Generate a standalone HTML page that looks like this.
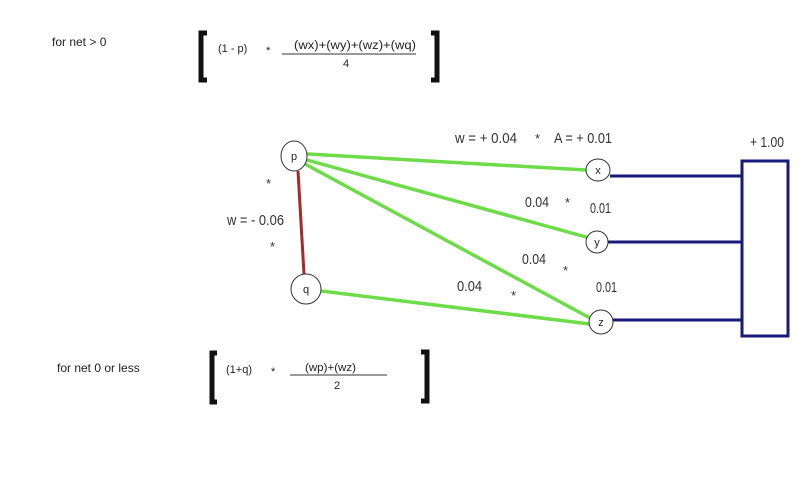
<!DOCTYPE html>
<html><head><meta charset="utf-8"><style>
html,body{margin:0;padding:0;background:#fff;width:800px;height:500px;overflow:hidden}
text{font-family:"Liberation Sans",sans-serif;fill:#222}
.n{fill:#333}
</style></head><body>
<svg width="800" height="500" viewBox="0 0 800 500" xmlns="http://www.w3.org/2000/svg">
<rect width="800" height="500" fill="#fff"/>
<!-- top formula -->
<text x="52" y="46" font-size="12">for net &gt; 0</text>
<path d="M207,33 H201 V80 H207" fill="none" stroke="#111" stroke-width="5"/>
<path d="M431,33 H437 V80 H431" fill="none" stroke="#111" stroke-width="5"/>
<text x="218" y="52" font-size="11">(1 - p)</text>
<text x="266" y="54" font-size="11">*</text>
<text x="294" y="49" font-size="11.5" textLength="122" lengthAdjust="spacingAndGlyphs">(wx)+(wy)+(wz)+(wq)</text>
<line x1="282" y1="54" x2="416" y2="54" stroke="#333" stroke-width="1"/>
<text x="343" y="67" font-size="11">4</text>
<!-- bottom formula -->
<text x="57" y="372" font-size="12">for net 0 or less</text>
<path d="M217,353 H212 V402 H217" fill="none" stroke="#111" stroke-width="5"/>
<path d="M421,352 H427 V401 H421" fill="none" stroke="#111" stroke-width="5"/>
<text x="226" y="373" font-size="11">(1+q)</text>
<text x="271" y="375" font-size="11">*</text>
<text x="305" y="371" font-size="11" textLength="51" lengthAdjust="spacingAndGlyphs">(wp)+(wz)</text>
<line x1="290" y1="375" x2="387" y2="375" stroke="#333" stroke-width="1"/>
<text x="334" y="389" font-size="11">2</text>
<!-- connectors -->
<g stroke="#6ddc48" stroke-width="3.5" fill="none" stroke-linecap="round">
<line x1="308" y1="154" x2="586" y2="170"/>
<line x1="307" y1="160" x2="586" y2="237"/>
<line x1="305" y1="164" x2="590" y2="318"/>
<line x1="321" y1="291" x2="590" y2="324"/>
</g>
<line x1="298" y1="171" x2="304" y2="274" stroke="#a52a2a" stroke-width="3"/>
<g stroke="#1a1a7a" stroke-width="3" fill="none">
<line x1="610" y1="176" x2="742" y2="176"/>
<line x1="608" y1="242" x2="742" y2="242"/>
<line x1="613" y1="320" x2="742" y2="320"/>
<rect x="742" y="161" width="46" height="175"/>
</g>
<!-- nodes -->
<g fill="#fff" stroke="#333" stroke-width="1">
<ellipse cx="294" cy="156" rx="13" ry="15"/>
<ellipse cx="306" cy="289" rx="15" ry="15"/>
<ellipse cx="598" cy="170" rx="12" ry="11"/>
<ellipse cx="597" cy="242" rx="11" ry="11"/>
<ellipse cx="601" cy="322" rx="12" ry="12"/>
</g>
<g font-size="11" text-anchor="middle">
<text x="294" y="160">p</text>
<text x="306" y="293">q</text>
<text x="598" y="174">x</text>
<text x="597" y="246">y</text>
<text x="601" y="326">z</text>
</g>
<!-- labels -->
<g font-size="15">
<text x="455" y="143" class="n" textLength="62" lengthAdjust="spacingAndGlyphs">w = + 0.04</text>
<text x="535" y="143" class="n" font-size="13">*</text>
<text x="554" y="143" class="n" textLength="58" lengthAdjust="spacingAndGlyphs">A =  + 0.01</text>
<text x="525" y="207" class="n" textLength="24" lengthAdjust="spacingAndGlyphs">0.04</text>
<text x="565" y="207" class="n" font-size="13">*</text>
<text x="590" y="213" class="n" textLength="21" lengthAdjust="spacingAndGlyphs">0.01</text>
<text x="522" y="264" class="n" textLength="24" lengthAdjust="spacingAndGlyphs">0.04</text>
<text x="563" y="275" class="n" font-size="13">*</text>
<text x="596" y="292" class="n" textLength="21" lengthAdjust="spacingAndGlyphs">0.01</text>
<text x="457" y="291" class="n" textLength="25" lengthAdjust="spacingAndGlyphs">0.04</text>
<text x="511" y="300" class="n" font-size="13">*</text>
<text x="227" y="225" class="n" textLength="57" lengthAdjust="spacingAndGlyphs">w = - 0.06</text>
<text x="266" y="188" class="n" font-size="13">*</text>
<text x="270" y="251" class="n" font-size="13">*</text>
<text x="750" y="147" class="n" textLength="34" lengthAdjust="spacingAndGlyphs">+ 1.00</text>
</g>
</svg>
</body></html>
